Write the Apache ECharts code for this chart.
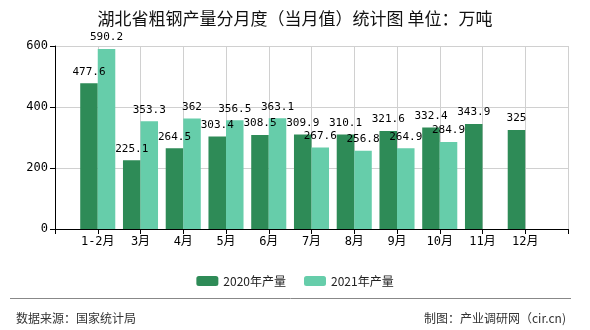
<!DOCTYPE html>
<html><head><meta charset="utf-8">
<script src="https://cdn.jsdelivr.net/npm/echarts@6/dist/echarts.min.js"></script>
<style>html,body{margin:0;padding:0;background:#fff}#c{width:590px;height:330px}</style>
</head><body><div id="c"></div>
<script>
const categories = ['1-2月','3月','4月','5月','6月','7月','8月','9月','10月','11月','12月'];
const series2020 = [477.6,225.1,264.5,303.4,308.5,309.9,310.1,321.6,332.4,343.9,325];
const series2021 = [590.2,353.3,362,356.5,363.1,267.6,256.8,264.9,284.9,null,null];
const yTicks = [0,200,400,600];
const names = ['2020年产量','2021年产量'];

const axisData = [''].concat(categories, ['']);
const pad = a => [null].concat(a, [null]);
const cjk = '"Noto Sans CJK SC", sans-serif';
const mono = '"DejaVu Sans Mono", "Noto Sans CJK SC", monospace';

const chart = echarts.init(document.getElementById('c'));
chart.setOption({
  animation: false,
  title: [
    {text: '湖北省粗钢产量分月度（当月值）统计图 单位：万吨', left: 'center', top: 5,
     textStyle: {fontFamily: cjk, fontSize: 17, fontWeight: 'normal', color: '#111'}},
    {text: '数据来源：国家统计局', left: 11, top: 307,
     textStyle: {fontFamily: cjk, fontSize: 12, fontWeight: 'normal', color: '#333'}},
    {text: '制图：产业调研网（cir.cn)', right: 19, top: 307,
     textStyle: {fontFamily: cjk, fontSize: 12, fontWeight: 'normal', color: '#333'}}
  ],
  graphic: [{type: 'line', shape: {x1: 10, y1: 298.5, x2: 571, y2: 298.5},
             style: {stroke: '#888', lineWidth: 1}}],
  legend: {data: names, top: 270, left: 'center', itemWidth: 22, itemHeight: 10, itemGap: 18,
           textStyle: {fontFamily: cjk, fontSize: 12, color: '#222'}},
  grid: {left: 55, right: 22, top: 46, bottom: 101},
  xAxis: {type: 'category', data: axisData, boundaryGap: false,
    axisLine: {lineStyle: {color: '#000'}},
    axisTick: {show: true, length: 5, lineStyle: {color: '#000'}},
    axisLabel: {fontFamily: mono, fontSize: 12, color: '#000', margin: 7, interval: 0},
    splitLine: {show: true, lineStyle: {color: '#d0d0d0'}}},
  yAxis: {type: 'value', min: yTicks[0], max: yTicks[yTicks.length-1], interval: 200,
    axisLine: {show: true, lineStyle: {color: '#000'}},
    axisTick: {show: true, length: 5, lineStyle: {color: '#000'}},
    axisLabel: {fontFamily: mono, fontSize: 12, color: '#000', margin: 7},
    splitLine: {lineStyle: {color: '#d0d0d0'}}},
  series: [
    {name: names[0], type: 'bar', data: pad(series2020), barGap: 0, barCategoryGap: '18%',
     itemStyle: {color: '#2E8B57'},
     label: {show: true, position: 'top', distance: 6, fontFamily: mono, fontSize: 11, color: '#000'}},
    {name: names[1], type: 'bar', data: pad(series2021), barGap: 0, barCategoryGap: '18%',
     itemStyle: {color: '#66CDAA'},
     label: {show: true, position: 'top', distance: 6, fontFamily: mono, fontSize: 11, color: '#000'}}
  ]
});
</script></body></html>
